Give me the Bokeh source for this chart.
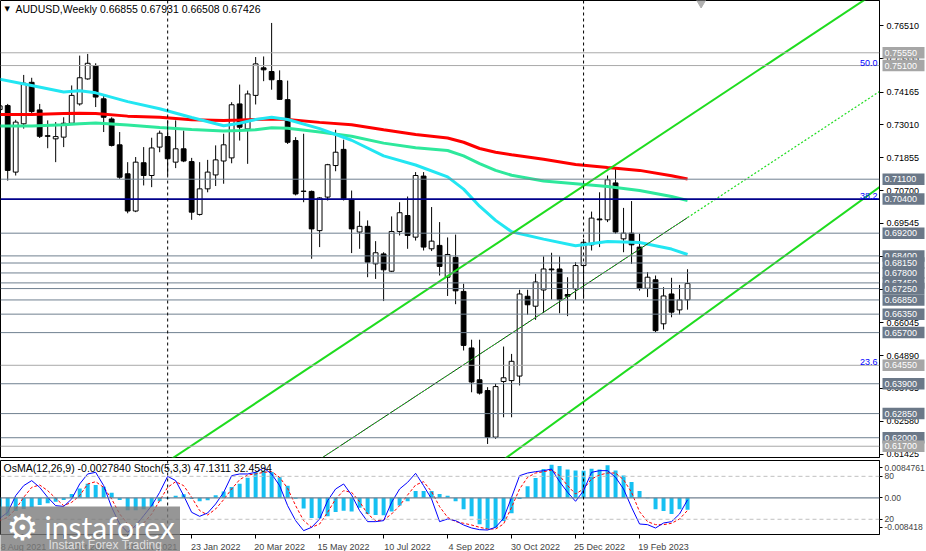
import numpy as np
from bokeh.plotting import figure
from bokeh.models import (Range1d, LinearAxis, FixedTicker, Span, Label,
                          ColumnDataSource, NumeralTickFormatter)
from bokeh.core.properties import value
from bokeh.layouts import column, row
from bokeh.embed import file_html
from bokeh.resources import INLINE

FONT = "Liberation Sans"
FS = "9px"

# ---------------- data (weekly AUDUSD, first bar = week of 8 Aug 2021) ----------------
opens = [0.7355, 0.7369, 0.7135, 0.7305, 0.7451, 0.7354, 0.7263, 0.7252, 0.7258, 0.7307,
         0.7375, 0.7463, 0.7510, 0.7393, 0.7322, 0.7231, 0.7129, 0.6998, 0.7168, 0.7123,
         0.7223, 0.7260, 0.7170, 0.7217, 0.7172, 0.6986, 0.7076, 0.7125, 0.7174, 0.7185,
         0.7375, 0.7287, 0.7405, 0.7502, 0.7489, 0.7457, 0.7390, 0.7246, 0.7068, 0.7067,
         0.6929, 0.7047, 0.7158, 0.7215, 0.7039, 0.6924, 0.6944, 0.6812, 0.6847, 0.6786,
         0.6926, 0.6982, 0.6906, 0.7121, 0.6865, 0.6877, 0.6765, 0.6835, 0.6715, 0.6516,
         0.6404, 0.6366, 0.6202, 0.6398, 0.6401, 0.6417, 0.6698, 0.6663, 0.6720, 0.6794,
         0.6794, 0.6704, 0.6724, 0.6806, 0.6879, 0.6970, 0.6967, 0.7097, 0.6900, 0.6920,
         0.6871, 0.6726, 0.6756, 0.6601, 0.6706, 0.6650, 0.66855]
highs = [0.7378, 0.7375, 0.7319, 0.7477, 0.7467, 0.7375, 0.7317, 0.7311, 0.7328, 0.7440,
         0.7545, 0.7551, 0.7518, 0.7405, 0.7328, 0.7276, 0.7170, 0.7188, 0.7223, 0.7256,
         0.7281, 0.7317, 0.7317, 0.7281, 0.7185, 0.7170, 0.7178, 0.7229, 0.7270, 0.7381,
         0.7443, 0.7422, 0.7540, 0.7542, 0.7660, 0.7493, 0.7457, 0.7258, 0.7270, 0.7070,
         0.7047, 0.7164, 0.7284, 0.7249, 0.7070, 0.6997, 0.6965, 0.6892, 0.6853, 0.6979,
         0.7029, 0.7049, 0.7135, 0.7135, 0.7012, 0.6959, 0.6905, 0.6915, 0.6742, 0.6545,
         0.6545, 0.6378, 0.6390, 0.6521, 0.6495, 0.6721, 0.6721, 0.6777, 0.6838, 0.6851,
         0.6838, 0.6765, 0.6818, 0.6900, 0.6996, 0.7064, 0.7123, 0.7146, 0.7009, 0.7033,
         0.6918, 0.6783, 0.6771, 0.6730, 0.6763, 0.6738, 0.67931]
lows = [0.7340, 0.7105, 0.7123, 0.7288, 0.7340, 0.7255, 0.7219, 0.7170, 0.7223, 0.7305,
        0.7369, 0.7460, 0.7364, 0.7276, 0.7225, 0.7111, 0.6990, 0.6994, 0.7088, 0.7082,
        0.7205, 0.7123, 0.7149, 0.7170, 0.6967, 0.6982, 0.7064, 0.7086, 0.7094, 0.7166,
        0.7246, 0.7164, 0.7373, 0.7455, 0.7425, 0.7390, 0.7234, 0.7053, 0.7029, 0.6830,
        0.6871, 0.7035, 0.7138, 0.7035, 0.6850, 0.6865, 0.6765, 0.6759, 0.6681, 0.6783,
        0.6912, 0.6865, 0.6894, 0.6859, 0.6857, 0.6771, 0.6699, 0.6670, 0.6507, 0.6360,
        0.6352, 0.6178, 0.6196, 0.6272, 0.6272, 0.6384, 0.6633, 0.6615, 0.6640, 0.6686,
        0.6638, 0.6628, 0.6685, 0.6689, 0.6859, 0.6871, 0.6959, 0.6918, 0.6853, 0.6812,
        0.6718, 0.6695, 0.6572, 0.6581, 0.6624, 0.6633, 0.66508]
closes = [0.7368, 0.7141, 0.7311, 0.7448, 0.7348, 0.7261, 0.7261, 0.7260, 0.7307, 0.7405,
          0.7467, 0.7518, 0.7399, 0.7328, 0.7229, 0.7117, 0.6998, 0.7170, 0.7123, 0.7220,
          0.7272, 0.7182, 0.7217, 0.7174, 0.6994, 0.7076, 0.7135, 0.7178, 0.7231, 0.7372,
          0.7293, 0.7410, 0.7516, 0.7495, 0.7460, 0.7391, 0.7240, 0.7058, 0.7067, 0.6935,
          0.7044, 0.7161, 0.7205, 0.7041, 0.6935, 0.6944, 0.6818, 0.6851, 0.6791, 0.6926,
          0.6992, 0.6912, 0.7123, 0.6871, 0.6892, 0.6803, 0.6845, 0.6717, 0.6525, 0.6396,
          0.6357, 0.6202, 0.6380, 0.6411, 0.6469, 0.6706, 0.6668, 0.6748, 0.6794, 0.6791,
          0.6686, 0.6698, 0.6806, 0.6888, 0.6973, 0.6967, 0.7108, 0.6924, 0.6920, 0.6879,
          0.6726, 0.6765, 0.6577, 0.6699, 0.6642, 0.6685, 0.67426]

# moving averages at these bar numbers
ma_idx = [0, 4, 8, 10, 12, 16, 20, 24, 28, 30, 32, 34, 36, 40, 44, 48, 52, 56, 58, 60,
          62, 64, 68, 72, 76, 80, 84, 86]
ma_red = [0.7338, 0.7338, 0.7341, 0.7342, 0.7341, 0.7332, 0.7328, 0.7319, 0.7317, 0.7318,
          0.7320, 0.7322, 0.7320, 0.7310, 0.7302, 0.7284, 0.7267, 0.7255, 0.7240, 0.7218,
          0.7205, 0.7196, 0.7180, 0.7162, 0.7151, 0.7141, 0.7122, 0.7111]
ma_green = [0.7297, 0.7297, 0.7302, 0.7305, 0.7308, 0.7301, 0.7292, 0.7285, 0.7280, 0.7281,
            0.7284, 0.7291, 0.7289, 0.7276, 0.7261, 0.7237, 0.7221, 0.7211, 0.7192, 0.7165,
            0.7141, 0.7124, 0.7104, 0.7094, 0.7084, 0.7070, 0.7049, 0.7035]
ma_cyan = [0.7462, 0.7440, 0.7417, 0.7421, 0.7414, 0.7383, 0.7358, 0.7327, 0.7298, 0.7307,
           0.7320, 0.7328, 0.7320, 0.7288, 0.7247, 0.7192, 0.7160, 0.7118, 0.7075, 0.7015,
           0.6965, 0.6925, 0.6899, 0.6876, 0.6891, 0.6887, 0.6864, 0.6845]

levels = [0.7555, 0.7510, 0.7110, 0.7040, 0.6920, 0.6840, 0.6815, 0.6780, 0.6745, 0.6725,
          0.6685, 0.6635, 0.6570, 0.6455, 0.6390, 0.6285, 0.6200, 0.6170]
level_labels = ["0.75550", "0.75100", "0.71100", "0.70400", "0.69200", "0.68400", "0.68150",
                "0.67800", "0.67450", "0.67250", "0.66850", "0.66350", "0.65700", "0.64550",
                "0.63900", "0.62850", "0.62000", "0.61700"]
level_kind = ["light", "light", "slate", "blue", "slate", "slate", "slate", "slate", "slate",
              "slate", "slate", "slate", "slate", "light", "slate", "slate", "slate", "light"]

fib_levels = [0.7510, 0.7040, 0.6455]
fib_labels = ["50.0", "38.2", "23.6"]

price_ticks = [0.76510, 0.75355, 0.74165, 0.73010, 0.71855, 0.70700, 0.69545, 0.68390,
               0.67235, 0.66045, 0.64890, 0.63735, 0.62580, 0.61425]

date_tick_idx = [0, 8, 16, 24, 32, 40, 48, 56, 64, 72, 80]
date_tick_labels = ["8 Aug 2021", "3 Oct 2021", "28 Nov 2021", "23 Jan 2022", "20 Mar 2022",
                    "15 May 2022", "10 Jul 2022", "4 Sep 2022", "30 Oct 2022", "25 Dec 2022",
                    "19 Feb 2023"]
year_sep_idx = [21, 73]

# trend channel (bar number, price) end points
chan_upper_x = [15, 112]
chan_upper_y = [0.60045, 0.78136]
chan_lower_x = [57, 112]
chan_lower_y = [0.60002, 0.71227]
chan_mid_x = [38, 86]
chan_mid_y = [0.60866, 0.69748]
chan_ray_x = [86, 112]
chan_ray_y = [0.69748, 0.74558]

osma = [-4.6, -4.2, -3.1, -2.6, -2.2, -1.7, -1.3, -0.9, -0.5, 0.9,
        2.2, 3.3, 3.0, 2.6, 1.2, -0.5, -2.9, -2.9, -2.7, -2.1,
        -0.8, -0.2, 0.5, 0.8, -0.3, -0.8, -0.6, 0.6, 1.5, 2.5,
        3.3, 4.7, 6.0, 6.3, 6.0, 4.8, 2.8, -0.2, -2.5, -4.7,
        -4.8, -4.3, -3.3, -3.0, -3.2, -2.3, -3.8, -4.0, -4.1, -3.2,
        -1.8, -0.8, 1.6, 1.6, 1.6, 0.9, 0.5, -0.8, -2.65, -4.3,
        -6.2, -7.2, -7.0, -5.4, -3.6, -0.3, 2.7, 4.6, 6.7, 7.7,
        7.4, 6.6, 6.4, 6.3, 6.8, 6.6, 7.6, 6.4, 5.2, 3.7,
        1.6, -0.1, -2.7, -3.1, -3.8, -2.7, -2.784]   # x 1e-3
stoch_k = [21.3, 29.7, 53, 67, 74, 64.6, 50.7, 39, 38, 48.3,
           69.3, 83.3, 85.6, 67, 36.7, 13.4, 1.8, 11.1, 25, 39,
           57.6, 80, 74, 53, 29.7, 24.1, 28.8, 41.4, 57.6, 80.9,
           83.3, 83.3, 85.6, 91.6, 83.3, 67, 39, 18.1, 4.1, 8.8,
           20.4, 46, 62.3, 69.3, 53.9, 32.1, 16.7, 16.7, 18.1, 43.7,
           62.3, 71.6, 84.2, 67, 48.3, 16.7, 20.4, 18.1, 12, 7.8,
           5.5, 5, 8.8, 21.3, 50.7, 80.9, 84.6, 86.5, 87.9, 90.2,
           72.6, 57.7, 45.1, 60, 85.6, 87.9, 87.9, 78.6, 62.3, 36.7,
           13.4, 12.5, 7.8, 14.8, 16.7, 27.4, 47.13]
stoch_d = [18.1, 22.7, 34.4, 50.7, 64.6, 67.9, 60, 49.3, 39, 43.7,
           53, 69.3, 72.5, 64.6, 48.3, 27.4, 13.4, 8.8, 14.8, 27.4,
           46, 64.6, 72.5, 67, 50.7, 32.1, 26, 34.4, 47.4, 62.3,
           75.3, 81.9, 83.3, 85.6, 86.5, 78.6, 63.2, 39, 18.1, 8.8,
           13.4, 29.7, 48.3, 60, 57.6, 44.6, 27.4, 18.1, 19, 27.4,
           39, 53.9, 67.9, 72.5, 58.6, 37.6, 22.7, 16.7, 14.4, 12,
           8.8, 6.4, 6.4, 13.4, 36.7, 62.3, 78.6, 84.6, 86.5, 88.8,
           80.9, 67, 55.3, 62.3, 76.3, 81.9, 84.6, 84.6, 75.3, 57.6,
           30.6, 16.7, 12.5, 12.5, 14.4, 20.4, 32.46]

# ---------------- styling ----------------
FW = 879          # plot frame width
AXW = 47          # right price-axis strip
XR = Range1d(0.1, 110.0)
YR = Range1d(0.61304, 0.7739)
LINE_COL = {"slate": "#708090", "light": "#a9a9a9", "blue": "#00008b"}
BOX_COL = {"slate": "#6b7888", "light": "#a6a6a6", "blue": "#6b7888"}

N = len(closes)
idx = list(range(N))
up = [c >= o for o, c in zip(opens, closes)]
src = ColumnDataSource(dict(
    x=idx, h=highs, l=lows,
    top=[max(o, c) for o, c in zip(opens, closes)],
    bot=[min(o, c) for o, c in zip(opens, closes)],
    fill=["white" if u else "black" for u in up]))

p = figure(frame_width=FW, frame_height=457, x_range=XR, y_range=YR,
           x_axis_location=None, y_axis_location="right", output_backend="svg",
           toolbar_location=None, min_border_left=0, min_border_top=0, min_border_bottom=3,
           min_border_right=AXW, background_fill_color="white", border_fill_color="white")
p.grid.visible = False
p.outline_line_color = "black"
ya = p.yaxis[0]
ya.ticker = FixedTicker(ticks=price_ticks)
ya.formatter = NumeralTickFormatter(format="0.00000")
ya.major_label_text_font = FONT
ya.major_label_text_font_size = FS
ya.major_label_text_color = "black"
ya.major_tick_out = 4
ya.major_tick_in = 0
ya.major_label_standoff = 3
ya.minor_tick_line_color = None
ya.axis_line_color = "black"

# candles
p.segment(x0="x", y0="l", x1="x", y1="h", source=src, line_color="black", line_width=1)
p.vbar(x="x", top="top", bottom="bot", width=0.6, source=src, fill_color="fill",
       line_color="black", line_width=1)

# moving averages
p.line(ma_idx, ma_red, line_color="#ff0000", line_width=3)
p.line(ma_idx, ma_green, line_color="#2ee89c", line_width=3)
p.line(ma_idx, ma_cyan, line_color="#22e6f2", line_width=3)

# horizontal levels
for lv, kind in zip(levels, level_kind):
    p.add_layout(Span(location=lv, dimension="width", line_color=LINE_COL[kind],
                      line_width=1.6 if kind == "blue" else 1))

# channel
p.line(chan_upper_x, chan_upper_y, line_color="#1fdc1f", line_width=2)
p.line(chan_lower_x, chan_lower_y, line_color="#1fdc1f", line_width=2)
p.line(chan_mid_x, chan_mid_y, line_color="#202020", line_width=1)
p.line(chan_mid_x, chan_mid_y, line_color="#1fdc1f", line_width=1, line_dash="2 2")
p.line(chan_ray_x, chan_ray_y, line_color="#1fdc1f", line_width=1.2, line_dash="2 2")

for s in year_sep_idx:
    p.add_layout(Span(location=s, dimension="height", line_color="black", line_width=1,
                      line_dash="3 3"))

# fib labels
for lv, t in zip(fib_levels, fib_labels):
    p.add_layout(Label(x=110.0, y=lv, x_offset=-2, y_offset=0, text=t, text_align="right",
                       text_baseline="bottom", text_font=FONT, text_font_size=FS,
                       text_color="#0000ff"))

# title
p.add_layout(Label(x=0.1, y=0.7739, x_offset=4, y_offset=-8, text="\u25BC", text_align="left",
                   text_baseline="middle", text_font="DejaVu Sans", text_font_size="7px",
                   text_color="black"))
p.add_layout(Label(x=0.1, y=0.7739, x_offset=15, y_offset=-8,
                   text="AUDUSD,Weekly  0.66855 0.67931 0.66508 0.67426", text_align="left",
                   text_baseline="middle", text_font=FONT, text_font_size="10.5px",
                   text_color="black"))
p.scatter([87.7], [0.7739], marker="inverted_triangle", size=13, fill_color="#b0b0b0",
          line_color="#b0b0b0")

# price boxes drawn over the axis strip (transparent overlay sharing the y scale)
S = figure(frame_width=AXW, frame_height=457, x_range=Range1d(0, AXW), y_range=YR,
           x_axis_location=None, y_axis_location=None, output_backend="svg",
           toolbar_location=None, min_border_left=0, min_border_right=0, min_border_top=0,
           min_border_bottom=3, background_fill_alpha=0, border_fill_alpha=0,
           outline_line_color=None, styles={"margin-left": f"-{AXW}px"})
S.grid.visible = False
for lv, t, kind in zip(levels, level_labels, level_kind):
    S.rect(x=[24], y=[lv], width=42, height=11.5, height_units="screen",
           fill_color=BOX_COL[kind], line_color=None)
    S.text(x=[5], y=[lv], text=[t], text_align="left", text_baseline="middle",
           text_color="white", text_font=value(FONT), text_font_size=value(FS))

# ---------------- lower panel ----------------
q = figure(frame_width=FW, frame_height=74, x_range=XR, y_range=Range1d(-8.57, 8.71),
           y_axis_location=None, output_backend="svg", toolbar_location=None,
           min_border_left=0, min_border_top=0, min_border_right=AXW, min_border_bottom=17,
           background_fill_color="white", border_fill_color="white")
q.grid.visible = False
q.outline_line_color = "black"
q.extra_y_ranges = {"st": Range1d(-1.26, 102.1)}

lbl_pos = [92, 80, 50, 20, 9]
lbl_txt = ["0.0084761", "80", "0.00", "20", "-0.008418"]
ay = LinearAxis(y_range_name="st", ticker=FixedTicker(ticks=lbl_pos),
                major_label_overrides={k: v for k, v in zip(lbl_pos, lbl_txt)})
ay.major_label_text_font = FONT
ay.major_label_text_font_size = "8.5px"
ay.major_tick_out = 3
ay.major_tick_in = 0
ay.major_label_standoff = 2
ay.minor_tick_line_color = None
ay.axis_line_color = "black"
q.add_layout(ay, "right")

xa = q.xaxis[0]
centers = [i + 3 for i in date_tick_idx]
xa.ticker = FixedTicker(ticks=centers, minor_ticks=date_tick_idx)
xa.major_label_overrides = {c: t for c, t in zip(centers, date_tick_labels)}
xa.major_tick_line_color = None
xa.major_tick_out = 0
xa.major_tick_in = 0
xa.minor_tick_line_color = "black"
xa.minor_tick_in = 0
xa.minor_tick_out = 4
xa.axis_line_color = None
xa.major_label_standoff = 3
xa.major_label_text_font = FONT
xa.major_label_text_font_size = FS

q.add_layout(Span(location=80, dimension="width", y_range_name="st", line_color="#c0c0c0",
                  line_dash="4 3", line_width=1))
q.add_layout(Span(location=20, dimension="width", y_range_name="st", line_color="#c0c0c0",
                  line_dash="4 3", line_width=1))
q.add_layout(Span(location=0, dimension="width", line_color="#708090", line_width=1.2))

q.vbar(x=idx, top=osma, bottom=0, width=0.5, fill_color="#16c0f2", line_color=None)
q.line(idx, stoch_d, y_range_name="st", line_color="#ff0000", line_width=1, line_dash="3 2")
q.line(idx, stoch_k, y_range_name="st", line_color="#0000ff", line_width=1)

for s in year_sep_idx:
    q.add_layout(Span(location=s, dimension="height", line_color="black", line_width=1,
                      line_dash="3 3"))

q.add_layout(Label(x=0.1, y=8.71, x_offset=3, y_offset=-7,
                   text="OsMA(12,26,9) -0.0027840  Stoch(5,3,3) 47.1311 32.4594",
                   text_align="left", text_baseline="middle", text_font=FONT,
                   text_font_size="10.5px", text_color="black"))

# watermark overlay (bottom-left)
LW, LH = 180, 48
L = figure(frame_width=LW, frame_height=LH, x_range=Range1d(0, LW), y_range=Range1d(0, LH),
           x_axis_location=None, y_axis_location=None, output_backend="svg",
           toolbar_location=None, min_border_left=0, min_border_right=0, min_border_top=0,
           min_border_bottom=0, background_fill_color="#7c7c7c", background_fill_alpha=0.8,
           border_fill_alpha=0, outline_line_color=None, styles={"margin-top": f"-{LH}px"})
L.grid.visible = False
L.text(x=[22], y=[27], text=["\u2699"], text_align="center", text_baseline="middle",
       text_color="white", text_font=value("DejaVu Sans"), text_font_size=value("36px"))
L.text(x=[44], y=[28], text=["instaforex"], text_align="left", text_baseline="middle",
       text_color="white", text_font=value("Lato"), text_font_size=value("30px"))
L.text(x=[48], y=[10], text=["Instant Forex Trading"], text_align="left",
       text_baseline="middle", text_color="#dedede", text_font=value(FONT),
       text_font_size=value("12px"))

layout = column(row(p, S), q, L)
open("out.html", "w").write(file_html(layout, INLINE))
